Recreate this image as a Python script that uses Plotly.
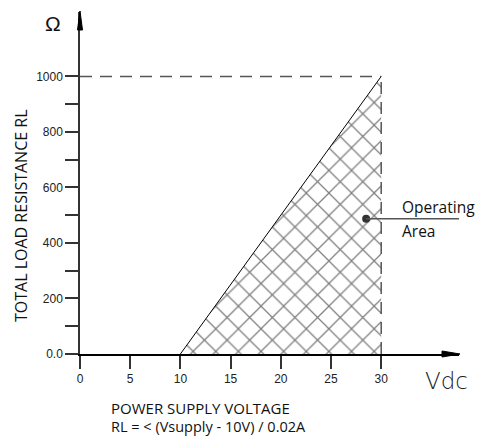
import plotly.graph_objects as go

# ---- data ----
v_supply = [10, 30]          # Vdc, edge of the operating area (RL = (V - 10) / 0.02)
rl_max = [0, 1000]           # Ohm
area_x = [10, 30, 30, 10]    # operating area outline
area_y = [0, 0, 1000, 0]
limit_v = 30
limit_rl = 1000
op_point_v = [28.5]
op_point_rl = [487]
x_ticks = [0, 5, 10, 15, 20, 25, 30]
y_ticks = [0, 100, 200, 300, 400, 500, 600, 700, 800, 900, 1000]
y_ticktext = ["0.0", "", "200", "", "400", "", "600", "", "800", "", "1000"]

W, H = 503, 436
L, R, T, B = 80, 44, 12, 82
pw, ph = W - L - R, H - T - B
XMAX = pw / 10.04
YMAX = ph / 0.2776

def px(x):
    return (x - L) / pw

def py(y):
    return (H - B - y) / ph

fig = go.Figure()

# hatched operating area
fig.add_trace(go.Scatter(
    x=area_x, y=area_y, mode="lines", fill="toself",
    line=dict(width=0, color="rgba(0,0,0,0)"),
    fillcolor="white",
    fillpattern=dict(shape="x", size=16, solidity=0.15, fgcolor="black", bgcolor="white"),
    hoverinfo="skip", showlegend=False,
))
# boundary line
fig.add_trace(go.Scatter(
    x=v_supply, y=rl_max, mode="lines", line=dict(color="black", width=1),
    showlegend=False, hoverinfo="skip",
))
# dashed limits
fig.add_trace(go.Scatter(
    x=[0, limit_v], y=[limit_rl, limit_rl], mode="lines",
    line=dict(color="#555555", width=1.5, dash="12px,8px"), showlegend=False,
))
fig.add_trace(go.Scatter(
    x=[limit_v, limit_v], y=[0, limit_rl], mode="lines",
    line=dict(color="#555555", width=1.5, dash="12px,8px"), showlegend=False,
))
# operating point
fig.add_trace(go.Scatter(
    x=op_point_v, y=op_point_rl, mode="markers",
    marker=dict(color="#333333", size=8), showlegend=False, cliponaxis=False,
))

# leader line to the right edge
fig.add_shape(type="line", xref="x", yref="y", x0=op_point_v[0], y0=op_point_rl[0],
              x1=XMAX + 5, y1=op_point_rl[0], line=dict(color="#555555", width=1.5))

# arrowheads
fig.add_shape(type="path", xref="paper", yref="paper",
              path=f"M {px(442)},{py(351)} L {px(460)},{py(354)} L {px(442)},{py(357)} Z",
              fillcolor="black", line=dict(color="black", width=1))
fig.add_shape(type="path", xref="paper", yref="paper",
              path=f"M {px(77.5)},{py(30)} L {px(80)},{py(11)} L {px(82.5)},{py(30)} Z",
              fillcolor="black", line=dict(color="black", width=1))

txt = dict(family="Open Sans, Noto Sans, sans-serif", color="#111111")
ann = [
    dict(x=px(400), y=py(207), text="Operating", xanchor="left", yanchor="middle", font=dict(size=15.5, **txt)),
    dict(x=px(400), y=py(231), text="Area", xanchor="left", yanchor="middle", font=dict(size=15.5, **txt)),
    dict(x=px(200), y=py(408), text="POWER SUPPLY VOLTAGE", xanchor="center", yanchor="middle", font=dict(size=15, **txt)),
    dict(x=px(208), y=py(426.5), text="RL = &lt; (Vsupply - 10V) / 0.02A", xanchor="center", yanchor="middle",
         font=dict(size=14.5, **txt), borderpad=0),
    dict(x=px(20.5), y=py(216.5), text="TOTAL LOAD RESISTANCE RL", textangle=-90, xanchor="center", yanchor="middle", font=dict(size=16, **txt)),
    dict(x=px(446), y=py(381), text="Vdc", xanchor="center", yanchor="middle",
         font=dict(size=23, family="DejaVu Sans ExtraLight, DejaVu Sans Light, Lato, sans-serif", color="#222222")),
    dict(x=px(53), y=py(23), text="Ω", xanchor="center", yanchor="middle",
         font=dict(size=21, family="Liberation Sans, Arial, sans-serif", color="#111111")),
]
for a in ann:
    a.update(xref="paper", yref="paper", showarrow=False)
fig.update_layout(annotations=ann)

tickfont = dict(family="Liberation Sans, Arial, sans-serif", size=12, color="#222222")
fig.update_xaxes(range=[0, XMAX], tickvals=x_ticks, ticktext=[str(v) for v in x_ticks],
                 ticks="outside", ticklen=13, tickwidth=1.5, tickcolor="#333333",
                 showline=True, linecolor="black", linewidth=1.5, showgrid=False,
                 zeroline=False, tickfont=tickfont)
fig.update_yaxes(range=[0, YMAX], tickvals=y_ticks, ticktext=y_ticktext,
                 ticks="outside", ticklen=13, tickwidth=1.5, tickcolor="#333333",
                 showline=True, linecolor="#333333", linewidth=1.5, showgrid=False,
                 zeroline=False, tickfont=tickfont)

fig.update_layout(width=W, height=H, margin=dict(l=L, r=R, t=T, b=B),
                  plot_bgcolor="white", paper_bgcolor="white", showlegend=False)

fig.write_html("out.html", config={"displayModeBar": False},
               post_script="document.body.style.margin='0';document.body.style.overflow='hidden';")
